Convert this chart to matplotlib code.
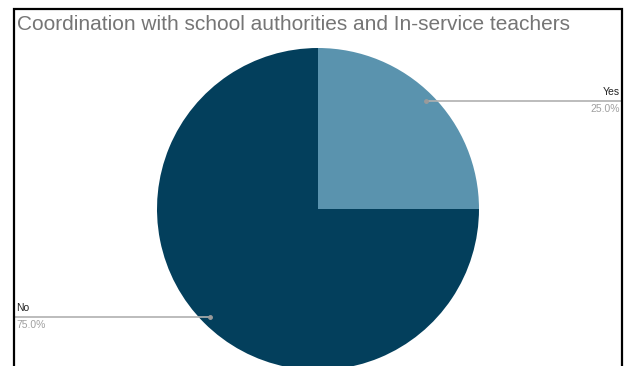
import matplotlib.pyplot as plt
import numpy as np
from matplotlib.patches import Rectangle

labels = ['Yes', 'No']
shares = [25.0, 75.0]
colors = ['#5a93ae', '#033f5c']
title = 'Coordination with school authorities and In-service teachers'

W, H = 627, 366
plt.rcParams['font.family'] = ['Liberation Sans', 'DejaVu Sans']

fig = plt.figure(figsize=(W / 100, H / 100), dpi=100)
ax = fig.add_axes([0, 0, 1, 1])

cx, cy, r = 318, H - 209, 161
wedges, _ = ax.pie(shares, colors=colors, startangle=90, counterclock=False,
                   center=(cx, cy), radius=r, frame=True,
                   wedgeprops=dict(linewidth=0))
ax.set_xlim(0, W)
ax.set_ylim(0, H)
ax.set_aspect('equal')
ax.axis('off')

# leader lines from each slice to the frame edge
for w, lab, val in zip(wedges, labels, shares):
    mid = np.deg2rad((w.theta1 + w.theta2) / 2)
    px = cx + 0.95 * r * np.cos(mid)
    py = cy + 0.95 * r * np.sin(mid)
    if np.cos(mid) >= 0:
        ex, ha, tx = 621, 'right', 620
    else:
        ex, ha, tx = 14, 'left', 16
    ax.plot([px, ex], [py, py], color='#b0b0b0', lw=1.2, zorder=3)
    ax.plot(px, py, 'o', ms=2.5, color='#9a9a9a', zorder=4)
    ax.text(tx, py + 4, lab, ha=ha, va='bottom', fontsize=7.5, color='#222222')
    ax.text(tx, py - 3, f'{val:.1f}%', ha=ha, va='top', fontsize=7.5, color='#a0a0a0')

ax.text(17, H - 25, title, ha='left', va='center', fontsize=15, color='#757575')

# outer frame, open at the bottom
fig.patches.append(Rectangle((13.5 / W, -0.1), 608 / W, (H - 8.5) / H + 0.1,
                             transform=fig.transFigure, fill=False,
                             edgecolor='black', lw=1.6))

fig.savefig('out.png', dpi=100)
